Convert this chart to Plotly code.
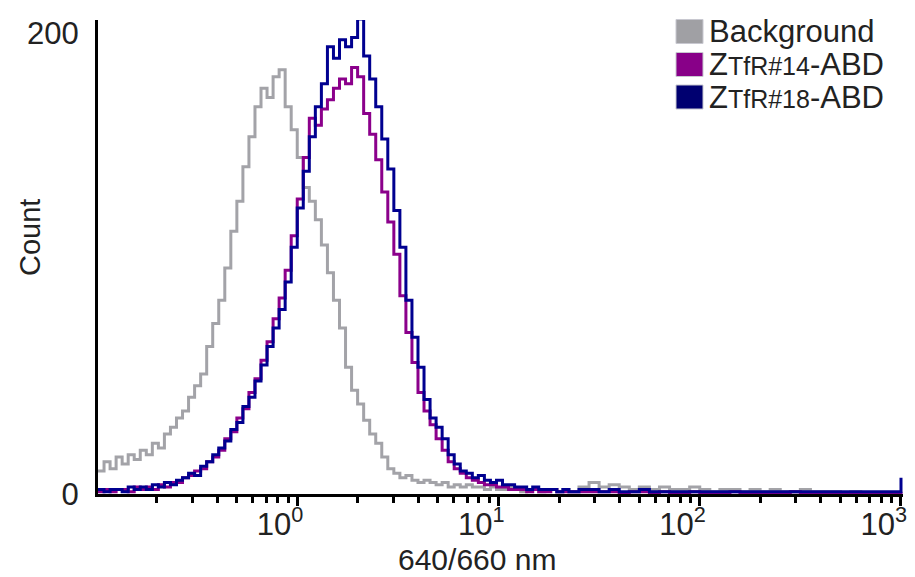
import plotly.graph_objects as go

# log10 of the 640/660 nm channel positions
log_channel = [
    -0.99, -0.96, -0.93, -0.90, -0.87, -0.84, -0.81, -0.78, -0.75, -0.72,
    -0.69, -0.66, -0.63, -0.60, -0.57, -0.54, -0.51, -0.48, -0.45, -0.42,
    -0.39, -0.36, -0.33, -0.30, -0.27, -0.24, -0.21, -0.18, -0.15, -0.12,
    -0.09, -0.06, -0.03, 0.00, 0.03, 0.06, 0.09, 0.12, 0.15, 0.18,
    0.21, 0.24, 0.27, 0.30, 0.33, 0.36, 0.39, 0.42, 0.45, 0.48,
    0.51, 0.54, 0.57, 0.60, 0.63, 0.66, 0.69, 0.72, 0.75, 0.78,
    0.81, 0.84, 0.87, 0.90, 0.93, 0.96, 0.99, 1.02, 1.05, 1.08,
    1.11, 1.14, 1.17, 1.20, 1.23, 1.26, 1.29, 1.32, 1.35,
    1.40, 1.45, 1.50, 1.55, 1.60, 1.65, 1.70, 1.75, 1.80, 1.85,
    1.90, 1.95, 2.00, 2.05, 2.10, 2.15, 2.20, 2.25, 2.30, 2.35,
    2.40, 2.45, 2.50, 2.55, 2.60, 2.65, 2.70, 2.75, 2.80, 2.85,
    2.90, 2.95, 3.00,
]

background = [
    10, 14, 11, 16, 13, 17, 15, 19, 17, 22,
    20, 26, 29, 33, 36, 42, 47, 52, 64, 74,
    84, 98, 114, 127, 142, 155, 168, 176, 172, 181,
    184, 168, 158, 146, 133, 127, 119, 108, 96, 84,
    72, 55, 45, 39, 32, 26, 22, 16, 11, 9,
    7, 8, 6, 5, 6, 5, 4, 5, 3, 4,
    3, 4, 3, 3, 2, 3, 2, 2, 3, 2,
    1, 2, 2, 1, 2, 2, 1, 2, 1,
    3, 5, 3, 4, 3, 2, 3, 2, 3, 2,
    2, 3, 2, 1, 2, 2, 1, 2, 1, 2,
    1, 1, 2, 1, 1, 1, 0, 1, 0, 0,
    0, 0, 0,
]

ztfr14 = [
    1, 2, 1, 2, 2, 1, 3, 2, 3, 2,
    4, 3, 5, 5, 7, 8, 10, 11, 14, 16,
    19, 24, 27, 33, 37, 44, 50, 58, 66, 76,
    85, 97, 112, 128, 146, 163, 160, 167, 171, 176,
    180, 178, 185, 181, 165, 156, 145, 131, 118, 104,
    86, 70, 57, 44, 36, 30, 24, 19, 14, 11,
    9, 7, 6, 5, 4, 4, 3, 3, 2, 2,
    2, 1, 2, 1, 1, 2, 1, 1, 1,
    1, 1, 1, 1, 0, 1, 1, 0, 1, 0,
    0, 1, 0, 0, 0, 1, 0, 0, 0, 0,
    0, 1, 0, 0, 0, 0, 0, 0, 0, 0,
    0, 0, 1,
]

ztfr18 = [
    2, 1, 2, 2, 1, 3, 2, 3, 2, 4,
    3, 5, 4, 6, 7, 9, 8, 12, 14, 17,
    20, 23, 28, 31, 38, 42, 49, 56, 64, 72,
    80, 92, 107, 124, 140, 155, 168, 178, 194, 189,
    197, 194, 198, 206, 190, 180, 168, 154, 141, 123,
    107, 84, 68, 55, 41, 33, 29, 24, 17, 13,
    10, 9, 7, 8, 6, 5, 6, 4, 4, 3,
    3, 2, 3, 2, 2, 2, 1, 2, 1,
    2, 2, 1, 2, 1, 1, 2, 1, 1, 1,
    1, 1, 1, 1, 1, 1, 1, 1, 1, 1,
    1, 1, 1, 1, 1, 1, 1, 1, 1, 1,
    1, 1, 7,
]

names = ["Background",
         "Z<span style='font-size:25px'>TfR#14</span>-ABD",
         "Z<span style='font-size:25px'>TfR#18</span>-ABD"]
colors = ["#a3a3a8", "#8b008b", "#000090"]
legend_colors = ["#a0a0a4", "#880088", "#000070"]

x = [10 ** v for v in log_channel]

fig = go.Figure()
for ys, c in zip([background, ztfr14, ztfr18], colors):
    fig.add_trace(go.Scatter(x=x, y=ys, mode="lines", line=dict(color=c, width=3, shape="hv"),
                             showlegend=False, hoverinfo="skip"))

font = "Liberation Sans, Arial, sans-serif"
pad = "&nbsp;" * 4

minor = [m * 10 ** k for k in range(-1, 3) for m in range(2, 10)]
fig.update_xaxes(type="log", range=[-0.99, 3.01], automargin=False,
                 showline=True, linecolor="black", linewidth=3,
                 showgrid=False, zeroline=False,
                 ticks="outside", ticklen=9, tickwidth=3, tickcolor="black",
                 tickvals=[1, 10, 100, 1000],
                 ticktext=[f"10<sup>{k}</sup>{pad}" for k in range(4)],
                 ticklabeloverflow="allow", ticklabelstandoff=-8,
                 tickfont=dict(size=31, color="#222"),
                 minor=dict(tickvals=minor, ticks="outside", ticklen=6, tickwidth=3, tickcolor="black"))
fig.update_yaxes(range=[0, 205.6], automargin=False, showline=True, linecolor="black", linewidth=3,
                 showgrid=False, zeroline=False,
                 ticks="outside", ticklen=10, tickcolor="rgba(0,0,0,0)",
                 tickvals=[0, 200], ticktext=["0", "200"],
                 tickfont=dict(size=31, color="#222"))

# legend drawn as squares + labels (page body adds an 8px offset, hence the smaller figure)
row_y = [31.5, 64.5, 97]
for name, c, py in zip(names, legend_colors, row_y):
    fig.add_shape(type="rect", xref="paper", yref="paper",
                  x0=(676 - 98) / 805, x1=(703 - 98) / 805,
                  y0=(494 - (py + 12)) / 474, y1=(494 - (py - 12)) / 474,
                  fillcolor=c, line=dict(color="#c8c8d0", width=1))
    fig.add_annotation(text=name, xref="paper", yref="paper",
                       x=(707 - 98) / 805, y=(494 - py) / 474,
                       xanchor="left", yanchor="middle", showarrow=False,
                       font=dict(size=31, color="#222", family=font))

fig.add_annotation(text="Count", xref="paper", yref="paper", x=(30 - 98) / 805, y=(494 - 238) / 474,
                   textangle=-90, showarrow=False, xanchor="center", yanchor="middle",
                   font=dict(size=29, color="#222", family=font))
fig.add_annotation(text="640/660 nm", xref="paper", yref="paper", x=(477 - 98) / 805, y=(494 - 559) / 474,
                   showarrow=False, xanchor="center", yanchor="middle",
                   font=dict(size=30, color="#222", family=font))

fig.update_layout(width=907, height=569, plot_bgcolor="white", paper_bgcolor="white",
                  font=dict(family=font, color="#222"),
                  margin=dict(l=90, r=12, t=12, b=83))

fig.write_html("out.html")
